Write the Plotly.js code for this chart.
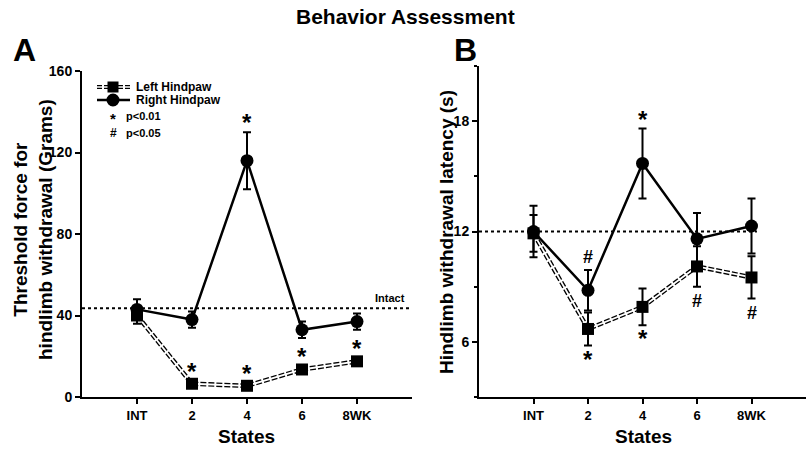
<!DOCTYPE html>
<html>
<head>
<meta charset="utf-8">
<script src="https://cdn.plot.ly/plotly-3.0.1.min.js"></script>
<style>
  body { margin: 0; background: #fff; }
  #chart { width: 810px; height: 450px; }
</style>
</head>
<body>
<div id="chart"></div>
<script>
// Behavior assessment, two panels
var states = ['INT', '2', '4', '6', '8WK'];

// panel A: threshold force (grams)
var rightA = [43, 38, 116, 33, 37];
var rightAErr = [5, 4, 14, 4, 4];
var leftA = [40, 6.5, 5.5, 13.5, 17.5];
var leftAErr = [4, 1.5, 1.5, 1.5, 1.5];
var intactA = 43.5;
var sigRightA = ['', '', '*', '', ''];
var sigLeftA = ['', '*', '*', '*', '*'];

// panel B: withdrawal latency (s)
var rightB = [12.0, 8.8, 15.7, 11.6, 12.3];
var rightBErr = [1.4, 1.1, 1.9, 1.4, 1.5];
var leftB = [11.9, 6.7, 7.9, 10.1, 9.5];
var leftBErr = [1.0, 0.9, 1.0, 1.1, 1.15];
var intactB = 12;
var sigRightB = ['', '#', '*', '', ''];
var sigLeftB = ['', '*', '*', '#', '#'];

var FONT = 'Liberation Sans, Arial, sans-serif';
function px(x) { return x / 810; }
function py(y) { return (450 - y) / 450; }
function bold(size) { return { family: FONT, size: size, weight: 'bold', color: 'black' }; }

function panel(xa, ya, left, leftErr, right, rightErr) {
  return [
    { x: states, y: left, xaxis: xa, yaxis: ya, mode: 'lines',
      line: { color: 'black', width: 4.5, dash: '6px,2px' } },
    { x: states, y: left, xaxis: xa, yaxis: ya, mode: 'lines',
      line: { color: 'white', width: 1.8 } },
    { x: states, y: right, xaxis: xa, yaxis: ya, mode: 'lines',
      line: { color: 'black', width: 2.5 } },
    { x: states, y: left, xaxis: xa, yaxis: ya, mode: 'markers',
      marker: { symbol: 'square', size: 12, color: 'black' },
      error_y: { type: 'data', array: leftErr, color: 'black', thickness: 2, width: 4 } },
    { x: states, y: right, xaxis: xa, yaxis: ya, mode: 'markers',
      marker: { symbol: 'circle', size: 13, color: 'black' },
      error_y: { type: 'data', array: rightErr, color: 'black', thickness: 2, width: 4 } }
  ];
}

var data = panel('x', 'y', leftA, leftAErr, rightA, rightAErr)
  .concat(panel('x2', 'y2', leftB, leftBErr, rightB, rightBErr));

// significance marks, placed by category index above or below the error bar
function sigNotes(xa, ya, vals, errs, marks, above) {
  var out = [];
  marks.forEach(function (m, i) {
    if (!m) return;
    var star = m === '*';
    out.push({
      xref: xa, yref: ya, x: i,
      y: above ? vals[i] + errs[i] : vals[i] - errs[i],
      text: m, showarrow: false, xanchor: 'center',
      yanchor: above ? 'bottom' : 'top',
      yshift: above ? (star ? -6 : 1) : (star ? 2 : -2),
      font: bold(star ? 24 : 18)
    });
  });
  return out;
}

function paperText(x, y, text, size, extra) {
  return Object.assign({ xref: 'paper', yref: 'paper', x: px(x), y: py(y), text: text,
    showarrow: false, xanchor: 'center', yanchor: 'middle', font: bold(size) }, extra || {});
}

var annotations = [
  paperText(405, 16, 'Behavior Assessment', 21),
  paperText(24, 50, 'A', 32),
  paperText(465, 50, 'B', 32),
  paperText(33, 230, 'Threshold force for<br>hindlimb withdrawal (Grams)', 19, { textangle: -90 }),
  paperText(446, 232, 'Hindlimb withdrawal latency (s)', 19, { textangle: -90 }),
  paperText(247, 436, 'States', 19),
  paperText(643, 436, 'States', 19),
  { xref: 'x', yref: 'y', x: 4.6, y: intactA, xanchor: 'center', yanchor: 'bottom', yshift: 2,
    text: 'Intact', showarrow: false, font: bold(11) },
  // legend text
  paperText(134, 87, 'Left Hindpaw', 12, { xanchor: 'left' }),
  paperText(134, 100, 'Right Hindpaw', 12, { xanchor: 'left' }),
  paperText(113, 118, '*', 15),
  paperText(124, 116, 'p<0.01', 11, { xanchor: 'left' }),
  paperText(113, 133, '#', 12),
  paperText(124, 133, 'p<0.05', 11, { xanchor: 'left' })
].concat(sigNotes('x', 'y', rightA, rightAErr, sigRightA, true))
 .concat(sigNotes('x', 'y', leftA, leftAErr, sigLeftA, true))
 .concat(sigNotes('x2', 'y2', rightB, rightBErr, sigRightB, true))
 .concat(sigNotes('x2', 'y2', leftB, leftBErr, sigLeftB, false));

var shapes = [
  { type: 'line', xref: 'x', yref: 'y', x0: -1, x1: 5, y0: intactA, y1: intactA,
    line: { color: 'black', width: 2, dash: 'dot' } },
  { type: 'line', xref: 'x2', yref: 'y2', x0: -1, x1: 4.1, y0: intactB, y1: intactB,
    line: { color: 'black', width: 2, dash: 'dot' } },
  // legend samples
  { type: 'line', xref: 'paper', yref: 'paper', x0: px(97), x1: px(130), y0: py(87), y1: py(87),
    line: { color: 'black', width: 4, dash: '5px,2px' } },
  { type: 'line', xref: 'paper', yref: 'paper', x0: px(97), x1: px(130), y0: py(87), y1: py(87),
    line: { color: 'white', width: 1.6 } },
  { type: 'rect', xref: 'paper', yref: 'paper', xsizemode: 'pixel', ysizemode: 'pixel',
    xanchor: px(113), yanchor: py(87), x0: -5.5, x1: 5.5, y0: -5.5, y1: 5.5,
    fillcolor: 'black', line: { width: 0 } },
  { type: 'line', xref: 'paper', yref: 'paper', x0: px(97), x1: px(130), y0: py(100), y1: py(100),
    line: { color: 'black', width: 2.5 } },
  { type: 'circle', xref: 'paper', yref: 'paper', xsizemode: 'pixel', ysizemode: 'pixel',
    xanchor: px(113), yanchor: py(100), x0: -6.5, x1: 6.5, y0: -6.5, y1: 6.5,
    fillcolor: 'black', line: { width: 0 } }
];

function xAxis(dom) {
  return {
    domain: dom, type: 'category', range: [-1, 5],
    showline: true, linecolor: 'black', linewidth: 2,
    showgrid: false, zeroline: false,
    ticks: 'outside', ticklen: 5, tickwidth: 2, tickcolor: 'black',
    tickfont: bold(13)
  };
}

var layout = {
  width: 810, height: 450,
  margin: { l: 0, r: 0, t: 0, b: 0 },
  paper_bgcolor: 'white', plot_bgcolor: 'white',
  showlegend: false,
  xaxis: xAxis([px(82), px(412)]),
  xaxis2: Object.assign(xAxis([px(479), px(806)]), { anchor: 'y2' }),
  yaxis: {
    domain: [py(397), py(71)], range: [0, 160], tickvals: [0, 40, 80, 120, 160],
    showline: true, linecolor: 'black', linewidth: 2, showgrid: false, zeroline: false,
    ticks: 'outside', ticklen: 5, tickwidth: 2, tickcolor: 'black',
    tickfont: bold(14)
  },
  yaxis2: {
    anchor: 'x2',
    domain: [py(397), py(66)], range: [3, 21], tick0: 0, dtick: 6,
    showline: true, linecolor: 'black', linewidth: 2, showgrid: false, zeroline: false,
    ticks: 'outside', ticklen: 5, tickwidth: 2, tickcolor: 'black',
    minor: { dtick: 3, tick0: 0, ticks: 'outside', ticklen: 3, tickwidth: 2, tickcolor: 'black', showgrid: false },
    tickfont: bold(14)
  },
  annotations: annotations,
  shapes: shapes
};

Plotly.newPlot('chart', data, layout, { staticPlot: true });
</script>
</body>
</html>
